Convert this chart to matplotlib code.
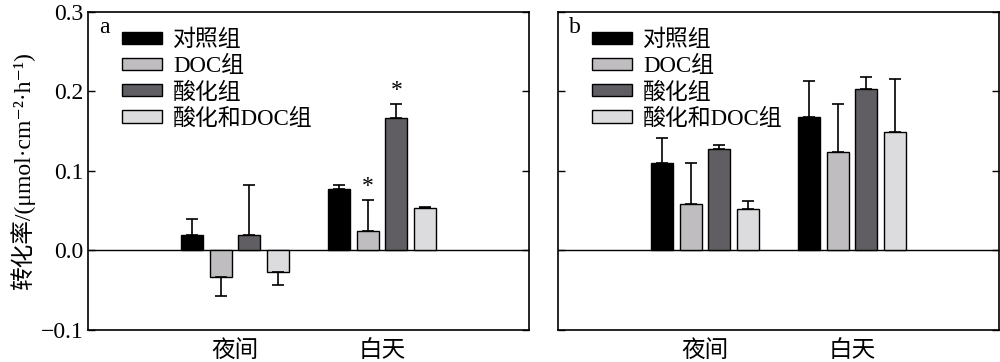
import matplotlib
matplotlib.use("Agg")
import matplotlib.pyplot as plt
import numpy as np

plt.rcParams['font.family'] = ['Liberation Serif', 'Noto Sans CJK SC', 'DejaVu Sans']

periods = ['夜间', '白天']
groups = ['对照组', 'DOC组', '酸化组', '酸化和DOC组']
colors = ['#000000', '#c0bdc1', '#605e62', '#dcdcde']

# panel a
a_vals = [[0.019, 0.077], [-0.033, 0.025], [0.019, 0.167], [-0.027, 0.054]]
a_errs = [[0.021, 0.006], [0.024, 0.038], [0.063, 0.017], [0.017, 0.001]]
a_star = [[False, False], [False, True], [False, True], [False, False]]
# panel b
b_vals = [[0.110, 0.168], [0.058, 0.124], [0.128, 0.203], [0.052, 0.149]]
b_errs = [[0.032, 0.045], [0.052, 0.060], [0.005, 0.015], [0.010, 0.067]]
b_star = [[False, False], [False, False], [False, False], [False, False]]

yticks = [-0.1, 0.0, 0.1, 0.2, 0.3]
yticklabels = ['−0.1', '0.0', '0.1', '0.2', '0.3']
ylabel = '转化率/(μmol·cm⁻²·h⁻¹)'

fig = plt.figure(figsize=(10, 3.62), dpi=100)
ax_a = fig.add_axes([0.088, 0.0884, 0.441, 0.8785])
ax_b = fig.add_axes([0.558, 0.0884, 0.441, 0.8785])

width = 0.15
step = 0.195
x = np.arange(len(periods))

def draw(ax, vals, errs, stars, letter, show_ylabels):
    for i, (v, e, c) in enumerate(zip(vals, errs, colors)):
        pos = x + (i - 1.5) * step
        v = np.array(v)
        e = np.array(e)
        ax.bar(pos, v, width=width, color=c, edgecolor='black', linewidth=1.0, zorder=2, label=groups[i])
        lower = np.where(v < 0, e, 0)
        upper = np.where(v >= 0, e, 0)
        ax.errorbar(pos, v, yerr=[lower, upper], fmt='none', ecolor='black',
                    elinewidth=1.2, capsize=4.5, capthick=1.2, zorder=3)
        for j in range(len(v)):
            if stars[i][j]:
                ax.text(pos[j], v[j] + e[j] + 0.004, '*', ha='center', va='bottom', fontsize=17)
    ax.axhline(0, color='black', linewidth=1.0, zorder=1)
    ax.set_xlim(-1, 2)
    ax.set_ylim(-0.1, 0.3)
    ax.set_yticks(yticks)
    ax.set_xticks(x)
    ax.set_xticklabels(periods, fontsize=17)
    ax.tick_params(axis='x', length=0, pad=7)
    ax.tick_params(axis='y', direction='in', left=True, right=True, length=5, width=1.0, labelsize=17)
    if show_ylabels:
        ax.set_yticklabels(yticklabels)
    else:
        ax.set_yticklabels([])
    for s in ax.spines.values():
        s.set_linewidth(1.2)
    ax.text(0.025, 0.985, letter, transform=ax.transAxes, ha='left', va='top', fontsize=17)
    ax.legend(loc='upper left', bbox_to_anchor=(0.076, 0.945), frameon=False, fontsize=16.5,
              handlelength=1.75, handleheight=0.45, handletextpad=0.5, labelspacing=0.22,
              borderaxespad=0, borderpad=0)

draw(ax_a, a_vals, a_errs, a_star, 'a', True)
draw(ax_b, b_vals, b_errs, b_star, 'b', False)
ax_a.set_ylabel(ylabel, fontsize=17, labelpad=4)

fig.savefig('out.png', dpi=100)
